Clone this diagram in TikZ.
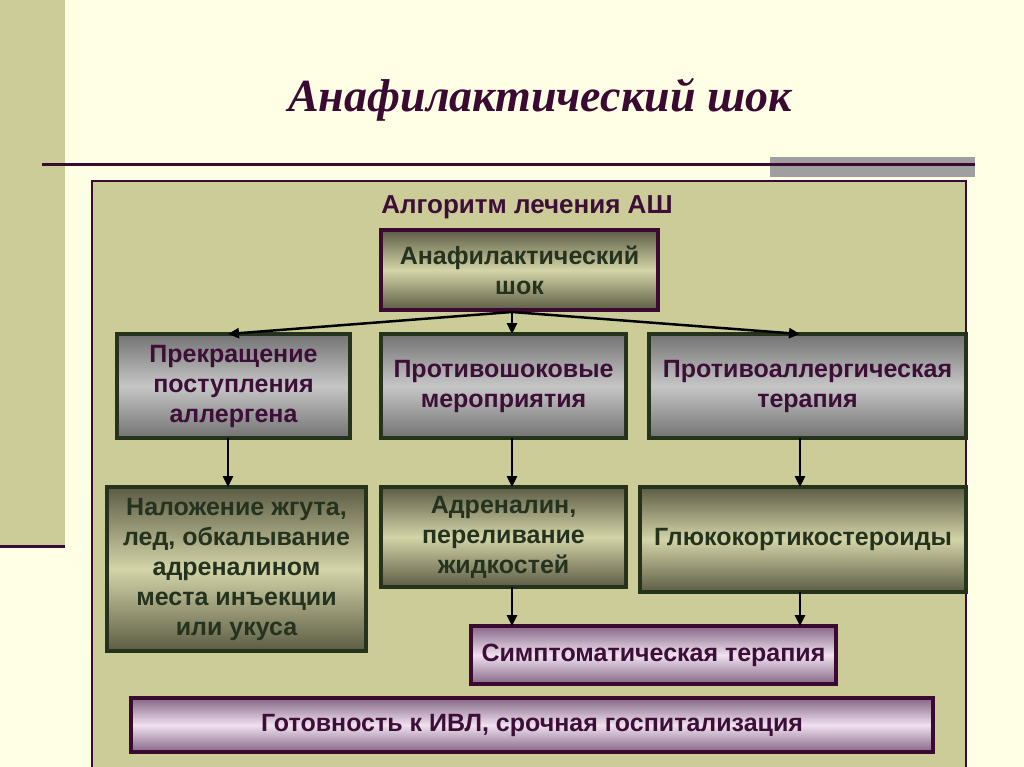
\documentclass[tikz,border=0pt]{standalone}
\usepackage{fontspec}
\setmainfont{Liberation Sans}
\newfontfamily\titlefont{Liberation Serif}
\usetikzlibrary{arrows.meta,shadows}
\definecolor{cream}{HTML}{FFFFE6}
\definecolor{olive}{HTML}{CCCC99}
\definecolor{dpurp}{HTML}{3A0A33}
\definecolor{dgreen}{HTML}{26331C}
\definecolor{txtp}{HTML}{3D0F38}
\definecolor{txtg}{HTML}{25331E}
\tikzset{
 bx/.style={line width=4pt,align=center,inner sep=0pt,font=\bfseries\fontsize{25}{30}\selectfont},
 graybox/.style={bx,draw=dgreen,top color=gray!90!black,bottom color=gray!90!black,middle color=gray!45,text=txtp},
 olivebox/.style={bx,draw=dgreen,top color=black!55!olive,bottom color=black!55!olive,middle color=olive!85!white,text=txtg},
 topbox/.style={bx,draw=dpurp,top color=black!55!olive,bottom color=black!55!olive,middle color=olive!85!white,text=txtg},
 purpbox/.style={bx,draw=dpurp,top color=violet!40!black!60!white,bottom color=violet!40!black!60!white,middle color=violet!12!white,text=txtp},
 arr/.style={-{Triangle[length=11pt,width=10pt]},line width=2.5pt,black}
}
\begin{document}
\begin{tikzpicture}[x=1pt,y=-1pt]
\fill[cream] (0,0) rectangle (1024,767);
\useasboundingbox (0,0) rectangle (1024,767);
\fill[olive] (0,0) rectangle (65,545);
\draw[dpurp,line width=3pt] (0,546) -- (65,546);
\fill[gray!75] (770,157) rectangle (975,177);
\draw[dpurp,line width=3pt] (42,165) -- (975,165);
\draw[dpurp,line width=2.5pt,fill=olive] (92,181) rectangle (966,790);
\node[font=\titlefont\bfseries\itshape\fontsize{46}{52}\selectfont,text=dpurp] (title) at (540,100) {Анафилактический шок};
\node[font=\bfseries\fontsize{26}{30}\selectfont,text=txtp] (sub) at (527,207) {Алгоритм лечения АШ};
\node[topbox,minimum width=277pt,minimum height=80pt] (top) at (519.5,270) {Анафилактический\\шок};
\node[graybox,minimum width=233pt,minimum height=104pt] (a) at (233.5,386) {Прекращение\\поступления\\аллергена};
\node[graybox,minimum width=245pt,minimum height=104pt] (b) at (503.5,386) {Противошоковые\\мероприятия};
\node[graybox,minimum width=317pt,minimum height=104pt] (c) at (807.5,386) {Противоаллергическая\\терапия};
\node[olivebox,minimum width=259pt,minimum height=164pt] (d) at (236.5,569) {Наложение жгута,\\лед, обкалывание\\адреналином\\места инъекции\\или укуса};
\node[olivebox,minimum width=245pt,minimum height=100pt] (e) at (503.5,537) {Адреналин,\\переливание\\жидкостей};
\node[olivebox,minimum width=326pt,minimum height=105pt] (f) at (803,539.5) {Глюкокортикостероиды};
\node[purpbox,minimum width=365pt,minimum height=58pt] (s) at (653.5,655) {Симптоматическая терапия};
\node[purpbox,minimum width=802pt,minimum height=54pt] (g) at (532,725) {Готовность к ИВЛ, срочная госпитализация};
\coordinate (o) at (512,312);
\draw[arr] (o) -- (228,334);
\draw[arr] (o) -- (512,334);
\draw[arr] (o) -- (800,334);
\draw[arr] (228,438) -- (228,487);
\draw[arr] (512,438) -- (512,487);
\draw[arr] (800,438) -- (800,487);
\draw[arr] (512,587) -- (512,626);
\draw[arr] (800,592) -- (800,626);
\end{tikzpicture}
\end{document}
